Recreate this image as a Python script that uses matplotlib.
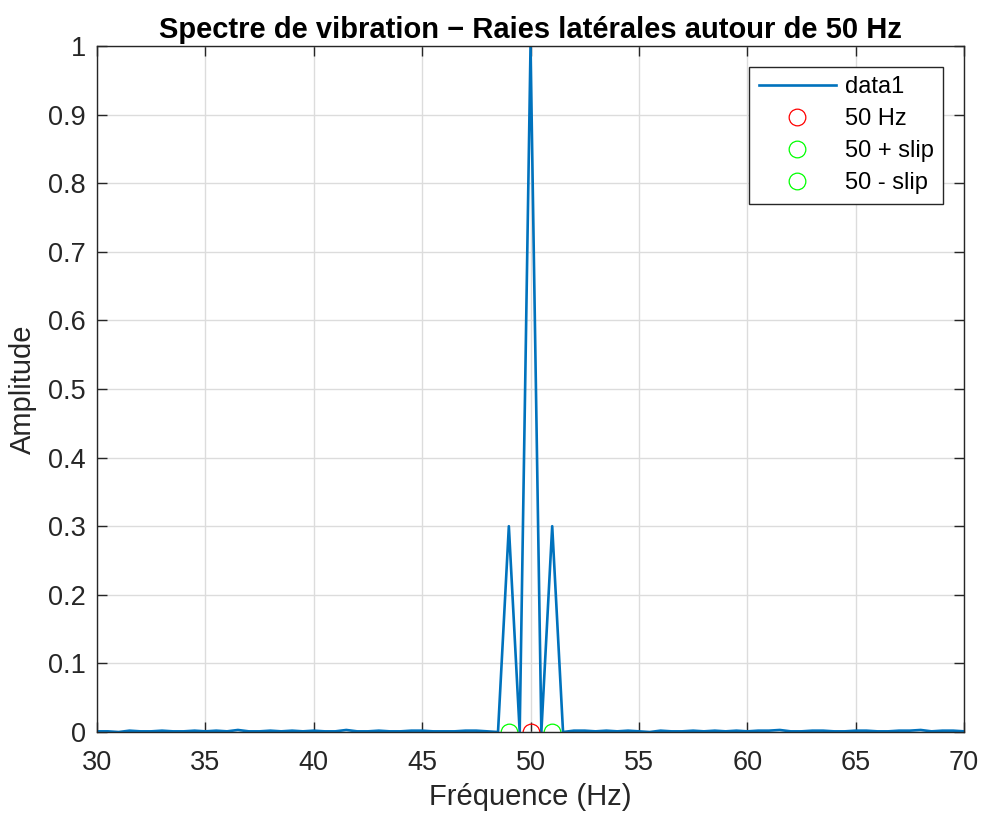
import numpy as np
import matplotlib
matplotlib.use("Agg")
import matplotlib.pyplot as plt

plt.rcParams["font.family"] = ["Liberation Sans", "DejaVu Sans"]

# spectrum sampled every 0.5 Hz from 30 to 70 Hz
freq = np.arange(30.0, 70.01, 0.5)
amplitude = [
    0.001, 0.001, 0.000, 0.002, 0.001, 0.001, 0.002, 0.001, 0.001, 0.002,
    0.001, 0.002, 0.001, 0.003, 0.001, 0.001, 0.002, 0.001, 0.002, 0.001,
    0.002, 0.001, 0.001, 0.003, 0.001, 0.001, 0.002, 0.001, 0.001, 0.002,
    0.002, 0.001, 0.001, 0.001, 0.002, 0.002, 0.001, 0.000, 0.300, 0.000,
    1.000, 0.000, 0.300, 0.000, 0.002, 0.002, 0.001, 0.002, 0.001, 0.002,
    0.001, 0.000, 0.002, 0.001, 0.001, 0.002, 0.001, 0.002, 0.001, 0.002,
    0.001, 0.002, 0.002, 0.003, 0.001, 0.001, 0.002, 0.002, 0.001, 0.001,
    0.002, 0.002, 0.001, 0.001, 0.002, 0.002, 0.003, 0.001, 0.002, 0.002,
    0.001,
]
f_main = 50.0
f_plus = 49.0
f_minus = 51.0

C_LINE = "#0072BD"
C_AX = "#262626"

fig = plt.figure(figsize=(9.81, 8.14), dpi=100)
ax = fig.add_axes([0.0989, 0.1007, 0.8838, 0.8428])

ax.plot(freq, amplitude, color=C_LINE, lw=1.9, label="data1")
ax.plot(f_main, 0, "o", mfc="none", mec="#FF0000", ms=12, mew=0.9, label="50 Hz")
ax.plot(f_plus, 0, "o", mfc="none", mec="#00FF00", ms=12, mew=0.9, label="50 + slip")
ax.plot(f_minus, 0, "o", mfc="none", mec="#00FF00", ms=12, mew=0.9, label="50 - slip")

ax.set_xlim(30, 70)
ax.set_ylim(0, 1)
ax.set_xticks(np.arange(30, 71, 5))
ax.set_yticks(np.arange(0, 1.01, 0.1))
ax.set_yticklabels(["0", "0.1", "0.2", "0.3", "0.4", "0.5", "0.6", "0.7", "0.8", "0.9", "1"])

ax.grid(True, color="#dcdcdc", lw=1.0)
ax.set_axisbelow(True)
for s in ax.spines.values():
    s.set_color(C_AX)
    s.set_linewidth(1.0)
ax.tick_params(direction="in", length=7, width=1, colors=C_AX, labelsize=19.5,
               top=True, right=True)
ax.tick_params(axis="x", pad=13)
ax.tick_params(axis="y", pad=8)

ax.set_xlabel("Fréquence (Hz)", fontsize=21, color=C_AX, labelpad=5)
ax.set_ylabel("Amplitude", fontsize=21, color=C_AX, labelpad=8)
ax.set_title("Spectre de vibration \u2212 Raies latérales autour de 50 Hz",
             fontsize=21, fontweight="bold", pad=6)

leg = ax.legend(loc="upper right", bbox_to_anchor=(1 - 21 / 867, 1 - 21 / 686),
                borderaxespad=0, fontsize=17, fancybox=False, framealpha=1,
                edgecolor=C_AX, handlelength=3.3, labelspacing=0.42,
                borderpad=0.4, handletextpad=0.35)
leg.get_frame().set_linewidth(1.0)

fig.savefig("out.png", dpi=100)
